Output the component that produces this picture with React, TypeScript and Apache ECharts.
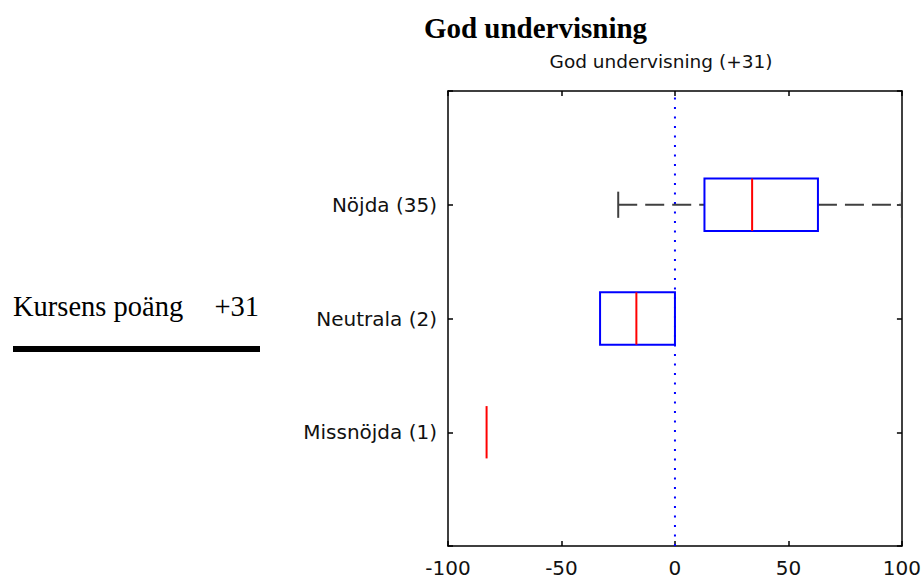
import React, { useEffect, useRef } from "react";
import * as echarts from "echarts";

const categories = ["Missnöjda (1)", "Neutrala (2)", "Nöjda (35)"];
const lowerWhisker = [-83, -33, -25];
const q1 = [-83, -33, 13];
const median = [-83, -17, 34];
const q3 = [-83, 0, 63];
const upperWhisker = [-83, 0, 100];
const xTicks = [-100, -50, 0, 50, 100];
const referenceX = 0;
const mainTitle = "God undervisning";
const subTitle = "God undervisning (+31)";
const scoreLabel = "Kursens poäng";
const scoreValue = "+31";

const SANS = "DejaVu Sans";
const SERIF = "Liberation Serif";

export default function App() {
  const ref = useRef<HTMLDivElement>(null);
  useEffect(() => {
    if (!ref.current) return;
    const chart = echarts.init(ref.current, undefined, { renderer: "svg" });
    const data = categories.map((_, i) => [
      i + 1,
      lowerWhisker[i],
      q1[i],
      median[i],
      q3[i],
      upperWhisker[i],
    ]);
    const halfBox = 0.23;
    const halfCap = 0.115;
    const renderItem = (params: any, api: any) => {
      const y = api.value(0);
      const lw = api.value(1);
      const a = api.value(2);
      const m = api.value(3);
      const b = api.value(4);
      const uw = api.value(5);
      const children: any[] = [];
      const whiskerStyle = { stroke: "#404040", lineWidth: 2, lineDash: [19, 8], fill: null };
      const capStyle = { stroke: "#404040", lineWidth: 2, fill: null };
      const cap = (v: number) => {
        const t = api.coord([v, y + halfCap]);
        const bt = api.coord([v, y - halfCap]);
        children.push({ type: "line", shape: { x1: t[0], y1: t[1], x2: bt[0], y2: bt[1] }, style: capStyle });
      };
      if (lw < a) {
        const p1 = api.coord([lw, y]);
        const p2 = api.coord([a, y]);
        children.push({ type: "line", shape: { x1: p1[0], y1: p1[1], x2: p2[0], y2: p2[1] }, style: whiskerStyle });
        cap(lw);
      }
      if (uw > b) {
        const p1 = api.coord([b, y]);
        const p2 = api.coord([uw, y]);
        children.push({ type: "line", shape: { x1: p1[0], y1: p1[1], x2: p2[0], y2: p2[1] }, style: whiskerStyle });
        cap(uw);
      }
      if (b > a) {
        const tl = api.coord([a, y + halfBox]);
        const br = api.coord([b, y - halfBox]);
        children.push({
          type: "rect",
          shape: { x: tl[0], y: tl[1], width: br[0] - tl[0], height: br[1] - tl[1] },
          style: { stroke: "#0000ff", lineWidth: 2, fill: "none" },
        });
      }
      const mt = api.coord([m, y + halfBox]);
      const mb = api.coord([m, y - halfBox]);
      children.push({
        type: "line",
        shape: { x1: mt[0], y1: mt[1], x2: mb[0], y2: mb[1] },
        style: { stroke: "#ff0000", lineWidth: 2 },
      });
      return { type: "group", children };
    };

    const axisLine = { show: true, onZero: false, lineStyle: { color: "#000", width: 1.5 } };
    const axisTick = { show: true, inside: true, length: 5, lineStyle: { color: "#000", width: 1.5 } };

    chart.setOption({
      animation: false,
      backgroundColor: "#fff",
      grid: { left: 448, right: 21, top: 91, bottom: 35, containLabel: false },
      graphic: [
        {
          type: "text",
          x: 535.5,
          y: 27.5,
          style: { text: mainTitle, font: `bold 29px "${SERIF}"`, fill: "#000", align: "center", verticalAlign: "middle" },
        },
        {
          type: "text",
          x: 661,
          y: 61,
          style: { text: subTitle, font: `18.5px "${SANS}"`, fill: "#111", align: "center", verticalAlign: "middle" },
        },
        {
          type: "text",
          x: 13,
          y: 306.5,
          style: { text: scoreLabel, font: `28.5px "${SERIF}"`, fill: "#000", align: "left", verticalAlign: "middle" },
        },
        {
          type: "text",
          x: 259,
          y: 306.5,
          style: { text: scoreValue, font: `28.5px "${SERIF}"`, fill: "#000", align: "right", verticalAlign: "middle" },
        },
        { type: "rect", shape: { x: 13, y: 346, width: 247, height: 6 }, style: { fill: "#000" } },
      ],
      xAxis: [
        {
          type: "value",
          position: "bottom",
          min: xTicks[0],
          max: xTicks[xTicks.length - 1],
          interval: 50,
          axisLine,
          axisTick,
          splitLine: { show: false },
          axisLabel: {
            show: true,
            margin: 12,
            color: "#111",
            fontFamily: SANS,
            fontSize: 20,
            showMinLabel: true,
            showMaxLabel: true,
          },
        },
        {
          type: "value",
          position: "top",
          min: xTicks[0],
          max: xTicks[xTicks.length - 1],
          interval: 50,
          axisLine,
          axisTick,
          splitLine: { show: false },
          axisLabel: { show: false },
        },
      ],
      yAxis: [
        {
          type: "value",
          position: "left",
          min: 0,
          max: categories.length + 1,
          interval: 1,
          axisLine,
          axisTick,
          splitLine: { show: false },
          axisLabel: {
            show: true,
            margin: 11,
            color: "#111",
            fontFamily: SANS,
            fontSize: 20,
            formatter: (v: number) => categories[v - 1] ?? "",
          },
        },
        {
          type: "value",
          position: "right",
          min: 0,
          max: categories.length + 1,
          interval: 1,
          axisLine,
          axisTick,
          splitLine: { show: false },
          axisLabel: { show: false },
        },
      ],
      series: [
        {
          type: "line",
          xAxisIndex: 0,
          yAxisIndex: 0,
          data: [
            [referenceX, 0],
            [referenceX, categories.length + 1],
          ],
          symbol: "none",
          silent: true,
          lineStyle: { color: "#0000ff", width: 2, type: [2, 7.5] },
          z: 1,
        },
        {
          type: "custom",
          xAxisIndex: 0,
          yAxisIndex: 0,
          data,
          encode: { x: [1, 2, 3, 4, 5], y: 0 },
          renderItem,
          silent: true,
          z: 2,
        },
      ],
    });
    return () => chart.dispose();
  }, []);
  return (
    <div
      ref={ref}
      style={{ position: "fixed", left: 0, top: 0, width: 924, height: 581, background: "#fff" }}
    />
  );
}
